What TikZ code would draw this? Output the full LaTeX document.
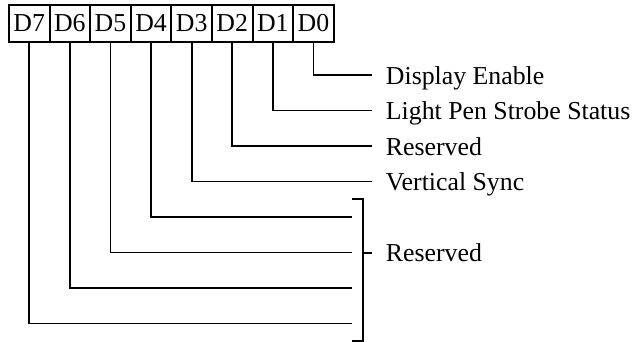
\documentclass[tikz,border=0pt]{standalone}
\usepackage{fontspec}
\setmainfont{Liberation Serif}
\begin{document}
\begin{tikzpicture}[x=1pt,y=-1pt,line width=1.9pt,
  bit/.style={draw,minimum width=40.6pt,minimum height=37pt,inner sep=0pt,anchor=north west,font=\fontsize{25.8}{27}\selectfont},
  lbl/.style={anchor=base west,inner sep=0pt,font=\fontsize{25.8}{27}\selectfont}]
\useasboundingbox (0,0) rectangle (633,342);
\foreach \i/\n in {0/7,1/6,2/5,3/4,4/3,5/2,6/1,7/0}
  \node[bit] (b\n) at ({8+\i*40.6},4) {D\n};
% line ends
\foreach \n/\y in {0/75,1/110.5,2/146,3/181.5}
  \coordinate (e\n) at (372,\y);
\foreach \n/\y in {4/217,5/252.5,6/288,7/323.5}
  \coordinate (e\n) at (352,\y);
\foreach \n in {0,...,7}
  \draw (b\n.south) |- (e\n);
% bracket
\coordinate (k1) at (352,199);
\coordinate (k2) at (363,199);
\coordinate (k3) at (363,341);
\coordinate (k4) at (352,341);
\coordinate (km) at (363,253);
\coordinate (kt) at (372,253);
\draw (k1) -- (k2) -- (k3) -- (k4);
\draw (km) -- (kt);
% labels
\node[lbl] (t0) at (385,84.5) {Display Enable};
\node[lbl] (t1) at (385,120) {Light Pen Strobe Status};
\node[lbl] (t2) at (385,155.5) {Reserved};
\node[lbl] (t3) at (385,191) {Vertical Sync};
\node[lbl] (t4) at (385,262) {Reserved};
\end{tikzpicture}
\end{document}
